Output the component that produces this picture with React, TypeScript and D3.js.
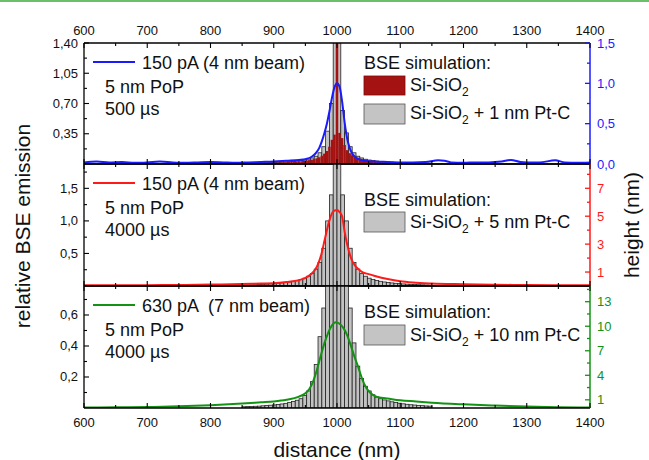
import React from 'react';
import * as d3 from 'd3';

const X_TICKS = [600, 700, 800, 900, 1000, 1100, 1200, 1300, 1400];
const X_MINOR = [650, 750, 850, 950, 1050, 1150, 1250, 1350];

// gray histograms: 6 nm bins starting at 850
const GRAY_BIN_WIDTH = 6;
const GRAY_BIN_STARTS = d3.range(850, 1150, 6);
const gray1nm = [0.01, 0.01, 0.012, 0.012, 0.013, 0.014, 0.015, 0.016, 0.018, 0.02, 0.022, 0.024, 0.027, 0.03, 0.034, 0.04, 0.047, 0.056, 0.07, 0.09,
  0.13, 0.2, 0.38, 0.7, 2.2, 2.2, 0.62, 0.36, 0.2, 0.13, 0.09, 0.07, 0.055,
  0.046, 0.04, 0.034, 0.03, 0.027, 0.024, 0.022, 0.02, 0.018, 0.016, 0.015, 0.014, 0.013, 0.012, 0.011, 0.01, 0.01];
const gray5nm = [0.014, 0.016, 0.018, 0.02, 0.022, 0.025, 0.028, 0.032, 0.036, 0.041, 0.047, 0.054, 0.062, 0.072, 0.085, 0.1, 0.12, 0.15, 0.19, 0.26, 0.36, 0.58, 1.0, 1.4,
  2.6, 2.6, 1.4, 1.0, 0.58, 0.36, 0.26, 0.19, 0.15, 0.12, 0.1, 0.085, 0.072, 0.062, 0.054, 0.047, 0.041, 0.036, 0.032, 0.028, 0.025, 0.022, 0.02, 0.018, 0.016, 0.014];
const gray10nm = [0.008, 0.009, 0.01, 0.011, 0.012, 0.014, 0.016, 0.018, 0.02, 0.023, 0.026, 0.03, 0.035, 0.042, 0.05, 0.06, 0.08, 0.11, 0.17, 0.28, 0.46, 0.645, 0.9, 1.2,
  1.5, 1.5, 1.2, 0.9, 0.645, 0.42, 0.27, 0.19, 0.14, 0.11, 0.085, 0.07, 0.06, 0.052, 0.046, 0.04, 0.035, 0.031, 0.027, 0.024, 0.021, 0.019, 0.017, 0.015, 0.013, 0.012];

// red histogram (Si-SiO2): 4 nm bins starting at 878
const RED_BIN_WIDTH = 4;
const RED_BIN_STARTS = d3.range(878, 1122, 4);
const redSiSiO2 = [0.012, 0.014, 0.013, 0.015, 0.016, 0.015, 0.017, 0.018, 0.02, 0.019, 0.021, 0.023, 0.022, 0.025, 0.027, 0.03, 0.032, 0.036,
  0.04, 0.045, 0.05, 0.057, 0.066, 0.078, 0.095, 0.12, 0.15, 0.2, 0.28, 0.34,
  2.4,
  0.36, 0.3, 0.22, 0.16, 0.125, 0.1, 0.085, 0.072, 0.062, 0.055, 0.049, 0.044, 0.04, 0.036, 0.033, 0.03, 0.028, 0.026, 0.024, 0.022, 0.021, 0.019, 0.018, 0.017, 0.016, 0.015, 0.014, 0.013, 0.012, 0.011];

// measured height profiles
const blueX = [600, 620, 640, 660, 680, 700, 720, 740, 760, 780, 800, 820, 840, 860, 880, 900, 920, 940, 950, 960, 966, 972, 976, 980, 984, 988, 992, 996, 1000, 1004, 1008, 1012, 1016, 1020, 1024, 1028, 1034, 1040, 1050, 1060, 1080, 1100, 1120, 1140, 1160, 1170, 1180, 1200, 1220, 1240, 1260, 1275, 1290, 1300, 1320, 1345, 1360, 1380, 1400];
const blueY = [0.02, 0.03, 0.02, 0.025, 0.015, 0.02, 0.03, 0.02, 0.015, 0.02, 0.025, 0.02, 0.015, 0.02, 0.025, 0.03, 0.04, 0.05, 0.06, 0.09, 0.13, 0.2, 0.28, 0.38, 0.5, 0.65, 0.82, 0.95, 1.0, 0.96, 0.78, 0.52, 0.32, 0.2, 0.13, 0.09, 0.06, 0.045, 0.035, 0.03, 0.025, 0.02, 0.02, 0.025, 0.045, 0.04, 0.02, 0.015, 0.02, 0.02, 0.03, 0.05, 0.025, 0.02, 0.02, 0.045, 0.02, 0.015, 0.02];

const redX = [600, 650, 700, 750, 800, 850, 880, 900, 920, 940, 950, 960, 966, 972, 976, 980, 984, 988, 992, 996, 1000, 1004, 1008, 1012, 1016, 1020, 1024, 1028, 1034, 1040, 1050, 1060, 1080, 1100, 1120, 1150, 1200, 1250, 1300, 1350, 1400];
const redY = [0.05, 0.05, 0.06, 0.07, 0.1, 0.14, 0.18, 0.2, 0.28, 0.42, 0.58, 0.9, 1.2, 1.8, 2.4, 3.2, 4.0, 4.7, 5.2, 5.4, 5.45, 5.3, 5.0, 3.9, 3.0, 2.3, 1.8, 1.5, 1.2, 1.0, 0.85, 0.72, 0.5, 0.34, 0.25, 0.18, 0.13, 0.09, 0.07, 0.05, 0.05];

const greenX = [600, 650, 700, 750, 800, 850, 880, 900, 920, 940, 950, 956, 962, 968, 974, 980, 986, 992, 998, 1004, 1010, 1016, 1022, 1028, 1034, 1040, 1046, 1052, 1060, 1070, 1080, 1100, 1125, 1150, 1200, 1250, 1300, 1350, 1400];
const greenY = [0.05, 0.08, 0.12, 0.2, 0.35, 0.55, 0.7, 0.8, 1.0, 1.4, 1.8, 2.3, 3.2, 4.6, 6.3, 7.9, 9.2, 10.1, 10.5, 10.3, 9.8, 8.9, 7.6, 6.2, 4.9, 3.5, 2.5, 1.9, 1.45, 1.25, 1.15, 0.95, 0.8, 0.65, 0.45, 0.3, 0.18, 0.1, 0.06];

const FONT = '"Liberation Sans", Arial, Helvetica, sans-serif';
const W = 649;
const H = 460;
const X0 = 84;
const X1 = 590;

const x = d3.scaleLinear().domain([600, 1400]).range([X0, X1]);

type Panel = {
  top: number; bottom: number;
  leftMax: number; leftLabels: number[]; leftMinor: number[]; leftFmt: (v: number) => string;
  rightMax: number; rightLabels: number[]; rightMinor: number[]; rightFmt: (v: number) => string;
  color: string; labelColor: string;
};

const comma = (d: number) => (v: number) => v.toFixed(d).replace('.', ',');

const panels: Panel[] = [
  { top: 43, bottom: 164, leftMax: 1.4, leftLabels: [0.35, 0.7, 1.05, 1.4], leftMinor: [0.175, 0.525, 0.875, 1.225], leftFmt: comma(2),
    rightMax: 1.5, rightLabels: [0, 0.5, 1.0, 1.5], rightMinor: [0.25, 0.75, 1.25], rightFmt: comma(1), color: '#1a1aff', labelColor: '#1a1aff' },
  { top: 164, bottom: 286, leftMax: 1.874, leftLabels: [0.5, 1.0, 1.5], leftMinor: [0.25, 0.75, 1.25, 1.75], leftFmt: comma(1),
    rightMax: 8.74, rightLabels: [1, 3, 5, 7], rightMinor: [2, 4, 6, 8], rightFmt: (v) => String(v), color: '#ff1a1a', labelColor: '#ff1a1a' },
  { top: 286, bottom: 408, leftMax: 0.787, leftLabels: [0.2, 0.4, 0.6], leftMinor: [0.1, 0.3, 0.5, 0.7], leftFmt: comma(1),
    rightMax: 14.92, rightLabels: [1, 4, 7, 10, 13], rightMinor: [2.5, 5.5, 8.5, 11.5, 14.5], rightFmt: (v) => String(v), color: '#139313', labelColor: '#139313' },
];

const yScales = panels.map((p) => ({
  left: d3.scaleLinear().domain([0, p.leftMax]).range([p.bottom, p.top]),
  right: d3.scaleLinear().domain([0, p.rightMax]).range([p.bottom, p.top]),
}));

function Bars({ starts, width, values, y, fill, stroke }: any) {
  return (
    <g>
      {values.map((v: number, i: number) => {
        const xa = x(starts[i]);
        const xb = x(starts[i] + width);
        const yv = y(v);
        return (
          <rect key={i} x={xa} y={yv} width={xb - xa} height={y(0) - yv}
            fill={fill} stroke={stroke} strokeWidth={stroke === 'none' ? 0 : 0.8} />
        );
      })}
    </g>
  );
}

function Line({ xs, ys, y, color }: any) {
  const gen = d3.line<number>().x((d, i) => x(xs[i])).y((d) => y(d)).curve(d3.curveMonotoneX);
  return <path d={gen(ys) || ''} fill="none" stroke={color} strokeWidth={2} />;
}

function Sub({ xPos, y, tail }: { xPos: number; y: number; tail: string }) {
  return (
    <text x={xPos} y={y} fontSize={18} fontFamily={FONT} fill="#111">
      Si-SiO<tspan fontSize={12} dy={5}>2</tspan><tspan dy={-5}>{tail}</tspan>
    </text>
  );
}

export default function App() {
  const lineLegends = [
    { label: '150 pA (4 nm beam)', time: '500 µs' },
    { label: '150 pA (4 nm beam)', time: '4000 µs' },
    { label: '630 pA  (7 nm beam)', time: '4000 µs' },
  ];
  const lineData = [
    { xs: blueX, ys: blueY },
    { xs: redX, ys: redY },
    { xs: greenX, ys: greenY },
  ];
  const grayData = [gray1nm, gray5nm, gray10nm];
  const grayTails = [' + 1 nm Pt-C', ' + 5 nm Pt-C', ' + 10 nm Pt-C'];
  const MAJ = 5;
  const MIN = 3;

  return (
    <svg width={W} height={H} style={{ position: 'absolute', left: 0, top: 0, background: '#fff' }}
      fontFamily={FONT}>
      <rect x={0} y={0} width={W} height={H} fill="#fff" />
      <rect x={0} y={0} width={W} height={2} fill="#6cbf6a" />
      <defs>
        {panels.map((p, i) => (
          <clipPath id={`clip${i}`} key={i}>
            <rect x={X0} y={p.top} width={X1 - X0} height={p.bottom - p.top} />
          </clipPath>
        ))}
      </defs>

      {panels.map((p, i) => {
        const ys = yScales[i];
        return (
          <g key={i}>
            <g clipPath={`url(#clip${i})`}>
              <Bars starts={GRAY_BIN_STARTS} width={GRAY_BIN_WIDTH} values={grayData[i]} y={ys.left} fill="#c2c2c2" stroke="#222" />
              {i === 0 && (
                <Bars starts={RED_BIN_STARTS} width={RED_BIN_WIDTH} values={redSiSiO2} y={ys.left} fill="#a51212" stroke="none" />
              )}
              <Line xs={lineData[i].xs} ys={lineData[i].ys} y={ys.right} color={p.color} />
            </g>
            {/* frame */}
            <line x1={X0} x2={X1} y1={p.top} y2={p.top} stroke="#000" strokeWidth={1.3} />
            <line x1={X0} x2={X1} y1={p.bottom} y2={p.bottom} stroke="#000" strokeWidth={1.3} />
            <line x1={X0} x2={X0} y1={p.top} y2={p.bottom} stroke="#000" strokeWidth={1.3} />
            <line x1={X1} x2={X1} y1={p.top} y2={p.bottom} stroke={p.color} strokeWidth={1.5} />
            {/* x ticks top and bottom, inward */}
            {X_TICKS.concat(X_MINOR).map((t) => {
              const len = X_TICKS.includes(t) ? MAJ : MIN;
              return (
                <g key={t}>
                  <line x1={x(t)} x2={x(t)} y1={p.top} y2={p.top + len} stroke="#000" strokeWidth={1.1} />
                  <line x1={x(t)} x2={x(t)} y1={p.bottom} y2={p.bottom - len} stroke="#000" strokeWidth={1.1} />
                </g>
              );
            })}
            {/* left axis */}
            {p.leftLabels.map((v) => (
              <g key={'l' + v}>
                <line x1={X0} x2={X0 + MAJ} y1={ys.left(v)} y2={ys.left(v)} stroke="#000" strokeWidth={1.1} />
                <text x={X0 - 6} y={ys.left(v) + 4.5} fontSize={13} textAnchor="end" fill="#111">{p.leftFmt(v)}</text>
              </g>
            ))}
            {p.leftMinor.map((v) => (
              <line key={'lm' + v} x1={X0} x2={X0 + MIN} y1={ys.left(v)} y2={ys.left(v)} stroke="#000" strokeWidth={1.1} />
            ))}
            {/* right axis */}
            {p.rightLabels.map((v) => (
              <g key={'r' + v}>
                <line x1={X1} x2={X1 - MAJ} y1={ys.right(v)} y2={ys.right(v)} stroke={p.color} strokeWidth={1.3} />
                <text x={X1 + 7} y={ys.right(v) + 4.5} fontSize={13} fill={p.labelColor}>{p.rightFmt(v)}</text>
              </g>
            ))}
            {p.rightMinor.map((v) => (
              <line key={'rm' + v} x1={X1} x2={X1 - MIN} y1={ys.right(v)} y2={ys.right(v)} stroke={p.color} strokeWidth={1.3} />
            ))}
            {/* line legend */}
            <line x1={93} x2={135} y1={p.top + 19} y2={p.top + 19} stroke={p.color} strokeWidth={2} />
            <text x={142} y={p.top + 26} fontSize={18} fill="#111" style={{ whiteSpace: 'pre' }}>{lineLegends[i].label}</text>
            <text x={105} y={p.top + 50} fontSize={18} fill="#111">5 nm PoP</text>
            <text x={105} y={p.top + 72} fontSize={18} fill="#111">{lineLegends[i].time}</text>
          </g>
        );
      })}

      {/* simulation legends */}
      <text x={364} y={69} fontSize={18} fill="#111">BSE simulation:</text>
      <rect x={364} y={76} width={41} height={19} fill="#a51212" stroke="#7a0c0c" strokeWidth={0.8} />
      <Sub xPos={410} y={91} tail="" />
      <rect x={364} y={104} width={41} height={20} fill="#c4c4c4" stroke="#555" strokeWidth={0.8} />
      <Sub xPos={410} y={119} tail={grayTails[0]} />

      <text x={364} y={206} fontSize={18} fill="#111">BSE simulation:</text>
      <rect x={364} y={212} width={41} height={20} fill="#c4c4c4" stroke="#555" strokeWidth={0.8} />
      <Sub xPos={410} y={228} tail={grayTails[1]} />

      <text x={364} y={318} fontSize={18} fill="#111">BSE simulation:</text>
      <rect x={364} y={325} width={41} height={20} fill="#c4c4c4" stroke="#555" strokeWidth={0.8} />
      <Sub xPos={410} y={341} tail={grayTails[2]} />

      {/* x tick labels */}
      {X_TICKS.map((t) => (
        <g key={'xt' + t}>
          <text x={x(t)} y={35} fontSize={13} textAnchor="middle" fill="#111">{t}</text>
          <text x={x(t)} y={427} fontSize={13} textAnchor="middle" fill="#111">{t}</text>
        </g>
      ))}

      {/* axis titles */}
      <text x={337} y={457} fontSize={21} textAnchor="middle" fill="#111">distance (nm)</text>
      <text transform="translate(30,226) rotate(-90)" fontSize={21} textAnchor="middle" fill="#111">relative BSE emission</text>
      <text transform="translate(639,225) rotate(-90)" fontSize={21} textAnchor="middle" fill="#111">height (nm)</text>
    </svg>
  );
}
